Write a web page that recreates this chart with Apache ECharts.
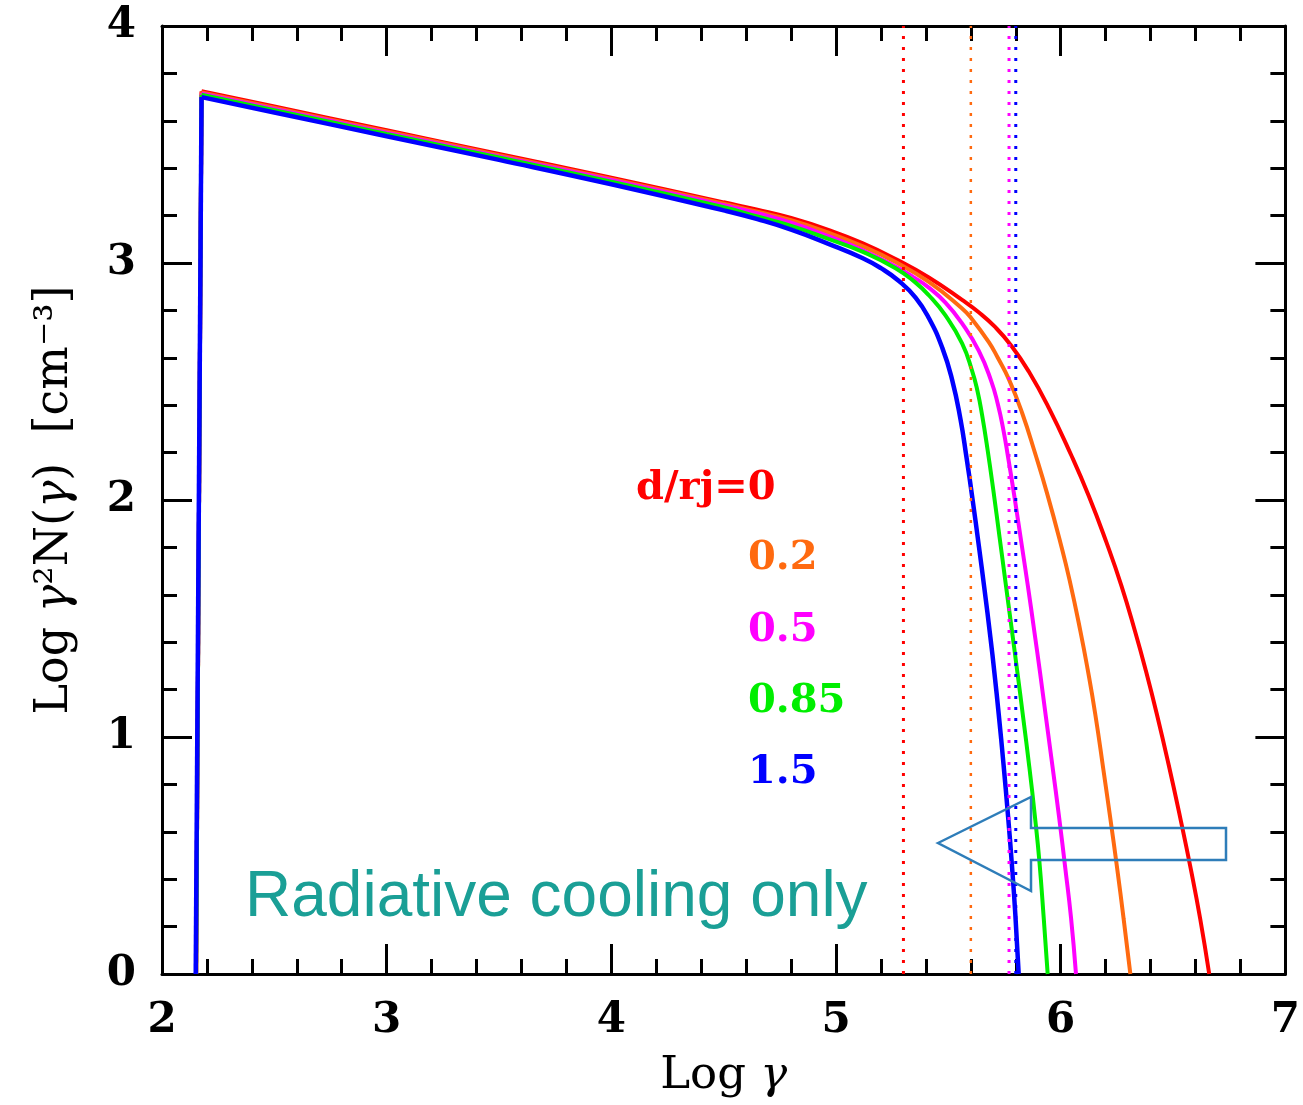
<!DOCTYPE html>
<html>
<head>
<meta charset="utf-8">
<script src="https://cdn.jsdelivr.net/npm/echarts@6/dist/echarts.min.js"></script>
<style>
html, body { margin: 0; padding: 0; background: #ffffff; }
#chart { width: 1303px; height: 1105px; }
</style>
</head>
<body>
<div id="chart"></div>
<script>
// Electron spectra Log γ²N(γ) vs Log γ for several jet distances d/rj
const redX = [2.152, 2.176, 2.5, 3.0, 3.5, 4.0, 4.5, 4.65, 4.8, 4.969, 5.117, 5.265, 5.413, 5.561, 5.635, 5.709, 5.781, 5.858, 5.947, 6.046, 6.125, 6.204, 6.27, 6.332, 6.38, 6.428, 6.48, 6.532, 6.58, 6.621, 6.661];
const redY = [0, 3.725, 3.660, 3.560, 3.460, 3.360, 3.256, 3.225, 3.190, 3.139, 3.084, 3.017, 2.939, 2.844, 2.792, 2.729, 2.650, 2.542, 2.389, 2.191, 2.017, 1.820, 1.639, 1.442, 1.276, 1.096, 0.885, 0.659, 0.438, 0.232, 0];

const orangeX = [2.152, 2.176, 2.5, 3.0, 3.5, 4.0, 4.5, 4.65, 4.8, 4.969, 5.117, 5.265, 5.413, 5.561, 5.603, 5.68, 5.72, 5.769, 5.828, 5.887, 5.94, 5.999, 6.04, 6.088, 6.12, 6.154, 6.19, 6.221, 6.25, 6.28, 6.31];
const orangeY = [0, 3.720, 3.655, 3.555, 3.455, 3.355, 3.250, 3.216, 3.181, 3.127, 3.071, 3.004, 2.920, 2.808, 2.766, 2.666, 2.600, 2.510, 2.368, 2.194, 2.026, 1.819, 1.660, 1.445, 1.285, 1.095, 0.862, 0.655, 0.455, 0.233, 0];

const magentaX = [2.152, 2.176, 2.5, 3.0, 3.5, 4.0, 4.5, 4.65, 4.8, 4.969, 5.117, 5.265, 5.354, 5.413, 5.487, 5.561, 5.635, 5.69, 5.72, 5.745, 5.765, 5.795, 5.826, 5.855, 5.882, 5.908, 5.934, 5.963, 5.993, 6.02, 6.046, 6.068];
const magentaY = [0, 3.715, 3.650, 3.550, 3.450, 3.350, 3.244, 3.210, 3.170, 3.112, 3.055, 2.985, 2.935, 2.896, 2.833, 2.745, 2.630, 2.504, 2.405, 2.295, 2.185, 2.008, 1.813, 1.630, 1.449, 1.272, 1.085, 0.879, 0.660, 0.449, 0.236, 0];

const greenX = [2.152, 2.176, 2.5, 3.0, 3.5, 4.0, 4.5, 4.65, 4.8, 4.969, 5.117, 5.265, 5.354, 5.413, 5.487, 5.561, 5.606, 5.63, 5.65, 5.675, 5.70, 5.728, 5.754, 5.78, 5.806, 5.832, 5.86, 5.886, 5.905, 5.925, 5.942];
const greenY = [0, 3.710, 3.645, 3.545, 3.445, 3.343, 3.235, 3.196, 3.157, 3.101, 3.048, 2.978, 2.917, 2.864, 2.779, 2.661, 2.544, 2.458, 2.359, 2.209, 2.042, 1.842, 1.655, 1.469, 1.282, 1.089, 0.876, 0.657, 0.476, 0.228, 0];

const blueX = [2.150, 2.176, 2.5, 3.0, 3.5, 4.0, 4.5, 4.65, 4.8, 4.969, 5.117, 5.2, 5.28, 5.354, 5.413, 5.473, 5.517, 5.554, 5.58, 5.608, 5.636, 5.66, 5.687, 5.705, 5.724, 5.745, 5.766, 5.782, 5.798, 5.813];
const blueY = [0, 3.700, 3.635, 3.535, 3.435, 3.332, 3.222, 3.185, 3.141, 3.080, 3.021, 2.978, 2.924, 2.854, 2.768, 2.642, 2.506, 2.340, 2.184, 2.000, 1.804, 1.629, 1.421, 1.270, 1.097, 0.889, 0.662, 0.470, 0.252, 0];

// cooling break (dotted verticals), one per distance
const breakX = [5.30, 5.60, 5.77, 5.80];
const breakColors = ['#ff0000', '#ff6a10', '#ff00ff', '#0000ff'];

const distLabels = ['d/rj=0', '0.2', '0.5', '0.85', '1.5'];
const curveColors = ['#ff0000', '#ff6a10', '#ff00ff', '#00ee00', '#0000ff'];
const curves = [[redX, redY], [orangeX, orangeY], [magentaX, magentaY], [greenX, greenY], [blueX, blueY]];

const xTicks = [2, 3, 4, 5, 6, 7];
const yTicks = [0, 1, 2, 3, 4];

const chart = echarts.init(document.getElementById('chart'), null, { renderer: 'canvas' });

const serif = 'DejaVu Serif';
const black = '#000';

function frameAxis(extra) {
  return Object.assign({
    type: 'value',
    axisLine: { show: true, onZero: false, lineStyle: { color: black, width: 3 } },
    axisTick: { show: true, inside: true, length: 30, lineStyle: { color: black, width: 3 } },
    minorTick: { show: true, splitNumber: 5, length: 15, lineStyle: { color: black, width: 3 } },
    splitLine: { show: false },
    minorSplitLine: { show: false }
  }, extra);
}

const tickLabel = { fontFamily: serif, fontWeight: 'bold', fontSize: 42, color: black };

const series = [];
curves.forEach(function (c, k) {
  const pts = c[0].map(function (x, i) { return [x, c[1][i]]; });
  const style = { color: curveColors[k], width: k === 4 ? 4.5 : 4 };
  // sharp injection edge at low energy
  series.push({
    type: 'line', name: distLabels[k], xAxisIndex: 0, yAxisIndex: 0,
    data: pts.slice(0, 2), showSymbol: false, smooth: false,
    lineStyle: style, z: 2 + k, silent: true
  });
  // power law with high-energy cutoff
  series.push({
    type: 'line', name: distLabels[k], xAxisIndex: 0, yAxisIndex: 0,
    data: pts.slice(1), showSymbol: false, smooth: 0.5,
    lineStyle: style, z: 2 + k, silent: true
  });
});
breakX.forEach(function (x, k) {
  series.push({
    type: 'line',
    xAxisIndex: 0, yAxisIndex: 0,
    data: [[x, yTicks[0]], [x, yTicks[yTicks.length - 1]]],
    showSymbol: false,
    lineStyle: { color: breakColors[k], width: k === 1 ? 2.5 : 3, type: [3, 8] },
    z: 10,
    silent: true
  });
});

const legendPos = [[636, 489], [748, 559], [748, 631], [748, 702], [748, 773]];
const legendTexts = distLabels.map(function (t, k) {
  return {
    type: 'text', x: legendPos[k][0], y: legendPos[k][1],
    style: { text: t, fill: curveColors[k], font: 'bold 40px "DejaVu Serif"', textAlign: 'left', textVerticalAlign: 'middle' },
    z: 20
  };
});

chart.setOption({
  animation: false,
  backgroundColor: '#ffffff',
  grid: { left: 162, right: 16, top: 26, bottom: 131, containLabel: false },
  xAxis: [
    frameAxis({
      position: 'bottom', min: xTicks[0], max: xTicks[xTicks.length - 1], interval: 1,
      axisLabel: Object.assign({ margin: 26 }, tickLabel),
      name: '{t|Log }{g|γ}', nameLocation: 'middle', nameGap: 80,
      nameTextStyle: { rich: {
        t: { fontFamily: serif, fontSize: 45, color: black },
        g: { fontFamily: serif, fontSize: 45, fontStyle: 'italic', color: black }
      } }
    }),
    frameAxis({
      position: 'top', min: xTicks[0], max: xTicks[xTicks.length - 1], interval: 1,
      axisLabel: { show: false }
    })
  ],
  yAxis: [
    frameAxis({
      position: 'left', min: yTicks[0], max: yTicks[yTicks.length - 1], interval: 1,
      axisLabel: Object.assign({ margin: 26 }, tickLabel),
      name: '{t|Log }{g|γ}{t|²N(}{g|γ}{t|)  [cm⁻³]}', nameLocation: 'middle', nameGap: 84, nameRotate: 90,
      nameTextStyle: { rich: {
        t: { fontFamily: serif, fontSize: 46, color: black },
        g: { fontFamily: serif, fontSize: 46, fontStyle: 'italic', color: black }
      } }
    }),
    frameAxis({
      position: 'right', min: yTicks[0], max: yTicks[yTicks.length - 1], interval: 1,
      axisLabel: { show: false }
    })
  ],
  series: series,
  graphic: legendTexts.concat([
    {
      type: 'text', x: 245, y: 898,
      style: { text: 'Radiative cooling only', fill: '#1a9f96', font: '64px "Liberation Sans", Arial, sans-serif', textAlign: 'left', textVerticalAlign: 'middle' },
      z: 20
    },
    {
      type: 'polygon',
      shape: { points: [[938, 843], [1031, 797], [1031, 828], [1226, 828], [1226, 860], [1031, 860], [1031, 891]] },
      style: { fill: 'none', stroke: '#2e7db9', lineWidth: 2.5 },
      z: 20
    }
  ])
});
</script>
</body>
</html>
